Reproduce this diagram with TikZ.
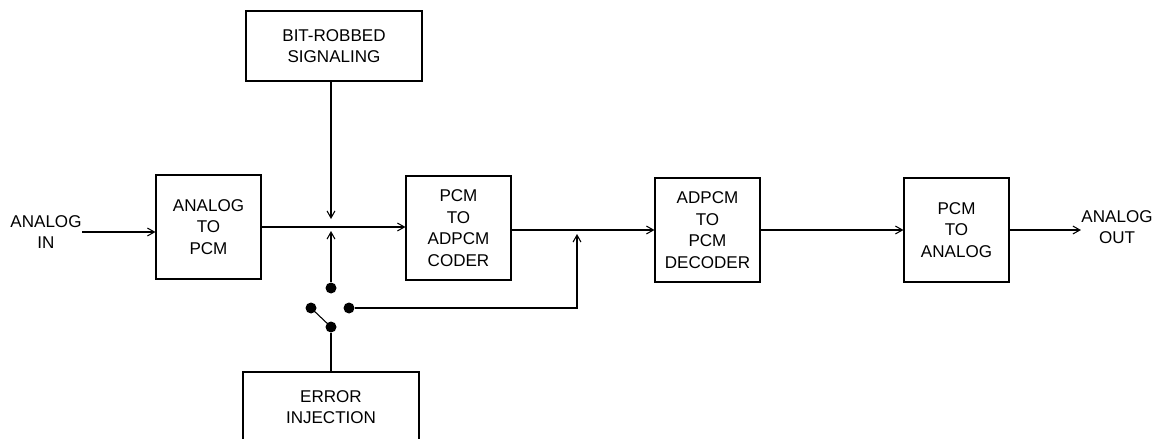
\documentclass[tikz,border=0pt]{standalone}
\usepackage{fontspec}
\setmainfont{Liberation Sans}
\usetikzlibrary{arrows.meta}
\newcommand{\lbl}{\fontsize{9.7}{12.3}\selectfont}

\begin{document}
\begin{tikzpicture}[x=0.02cm,y=-0.02cm,line width=0.6pt,
    box/.style={draw,align=center,inner sep=0pt,font=\lbl},
    blk/.style={box,minimum width=2.1cm,minimum height=2.08cm},
    wide/.style={box,minimum width=3.52cm,minimum height=1.4cm},
    sig/.style={-{Straight Barb[length=4pt,width=4.5pt]}},
    dot/.style={circle,fill,inner sep=0pt,minimum size=0.22cm}]
    \clip (0,0) rectangle (1159,439);

    % Blocks
    \node[blk] (a2p) at (208.5,227) {ANALOG\\TO\\PCM};
    \node[blk] (coder) at (458.5,228) {PCM\\TO\\ADPCM\\CODER};
    \node[blk] (dec) at (707.5,230) {ADPCM\\TO\\PCM\\DECODER};
    \node[blk] (p2a) at (956.5,230) {PCM\\TO\\ANALOG};
    \node[wide] (bit) at (334,46) {BIT-ROBBED\\SIGNALING};
    \node[wide] (err) at (331,407) {ERROR\\INJECTION};

    % In / out labels
    \node[font=\lbl,align=center,inner sep=0pt] (ain) at (46,232) {ANALOG\\IN};
    \node[font=\lbl,align=center,inner sep=0pt] (aout) at (1117,227) {ANALOG\\OUT};

    % Switch
    \node[dot] (st) at (331,288) {};
    \node[dot] (sl) at (311,308) {};
    \node[dot] (sr) at (349,308) {};
    \node[dot] (sb) at (331,327) {};
    \coordinate (jtop) at (331,219);
    \coordinate (jbot) at (331,231);
    \coordinate (merge) at (577,234);

    % Signal path
    \draw[sig] (ain.east) -- (ain.east -| a2p.west);
    \draw[sig] (a2p.east) -- (a2p.east -| coder.west);
    \draw[sig] (coder.east |- dec.west) -- (dec.west);
    \draw[sig] (dec) -- (p2a);
    \draw[sig] (p2a.east) -- (p2a.east -| aout.west);

    % Injection paths
    \draw[sig] (bit.south -| jtop) -- (jtop);
    \draw[sig] (st) -- (jbot);
    \draw (sl.center) -- (sb.center);
    \draw (err) -- (sb);
    \draw[sig] (sr) -| (merge);
\end{tikzpicture}
\end{document}
